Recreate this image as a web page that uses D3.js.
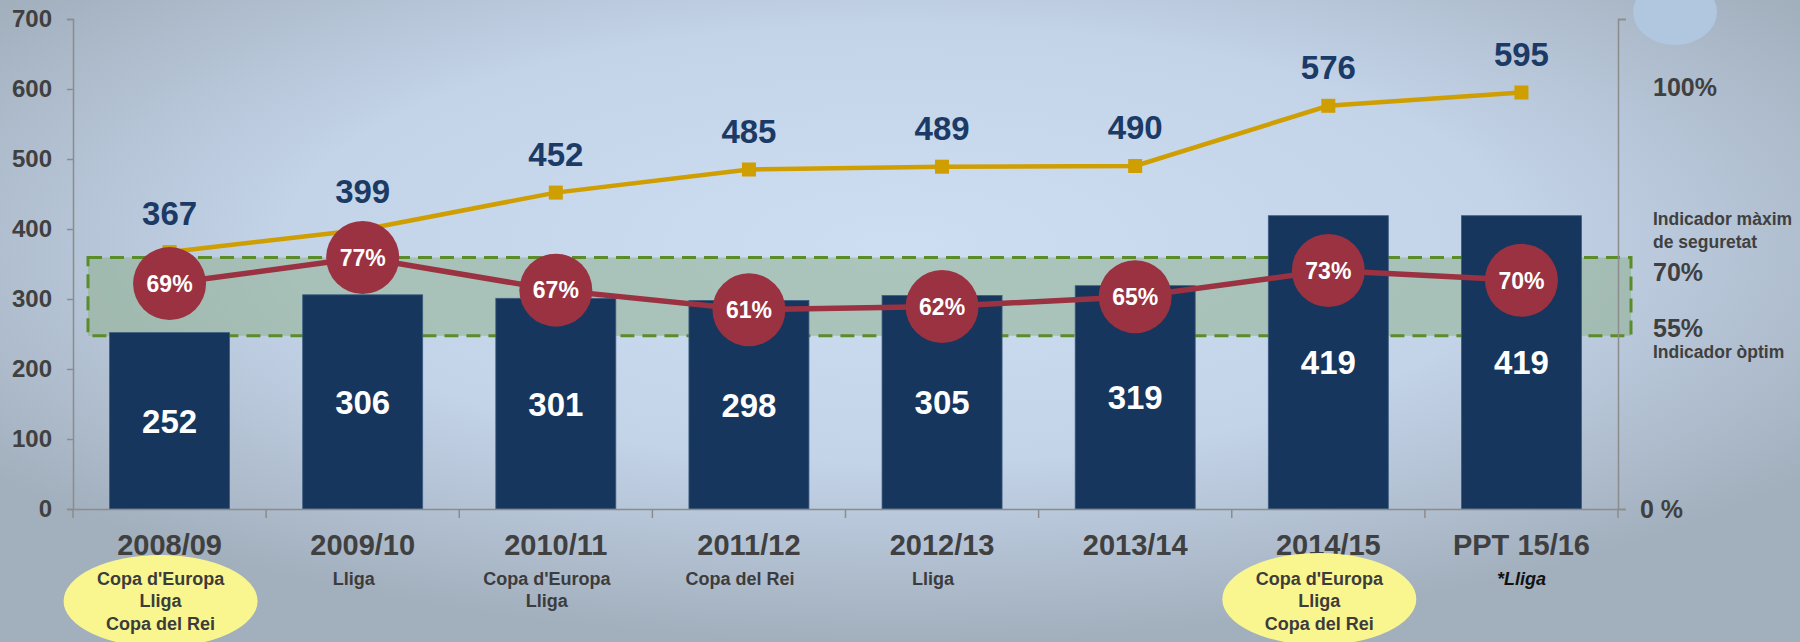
<!DOCTYPE html>
<meta charset="utf-8">
<style>
    body { margin: 0; }
    svg text { font-family: "Liberation Sans", Arial, sans-serif; font-weight: bold; }
    .axis path, .axis line { stroke: #8c8c8c; stroke-width: 1.5px; }
    .axis text { fill: #404040; }
</style>
<svg width="1800" height="642"></svg>
<script src="https://cdnjs.cloudflare.com/ajax/libs/d3/7.8.5/d3.min.js"></script>
<script>

    var seasons = ["2008/09", "2009/10", "2010/11", "2011/12", "2012/13", "2013/14", "2014/15", "PPT 15/16"];
    var totals = [367, 399, 452, 485, 489, 490, 576, 595];
    var barValues = [252, 306, 301, 298, 305, 319, 419, 419];
    var percents = [69, 77, 67, 61, 62, 65, 73, 70];
    var titles = [
        ["Copa d'Europa", "Lliga", "Copa del Rei"],
        ["Lliga"],
        ["Copa d'Europa", "Lliga"],
        ["Copa del Rei"],
        ["Lliga"],
        [],
        ["Copa d'Europa", "Lliga", "Copa del Rei"],
        ["*Lliga"]
    ];
    var highlighted = ["2008/09", "2014/15"];
    var yTicks = [0, 100, 200, 300, 400, 500, 600, 700];
    var safetyBand = [53, 77];

    var svg = d3.select("svg"),
            width = +svg.attr("width"),
            height = +svg.attr("height");

    var plotLeft = 73, plotRight = 1618, plotTop = 19, plotBottom = 509;

    // background
    var defs = svg.append("defs");
    var grad = defs.append("radialGradient")
            .attr("id", "bg")
            .attr("cx", "50%").attr("cy", "38%").attr("r", "62%");
    grad.append("stop").attr("offset", "0%").attr("stop-color", "#cddef2");
    grad.append("stop").attr("offset", "55%").attr("stop-color", "#c3d3e8");
    grad.append("stop").attr("offset", "100%").attr("stop-color", "#a2afbd");

    svg.append("rect")
            .attr("width", width)
            .attr("height", height)
            .attr("fill", "url(#bg)");

    svg.append("ellipse")
            .attr("cx", 1675).attr("cy", 12)
            .attr("rx", 42).attr("ry", 33)
            .attr("fill", "#b0c7df");

    var x = d3.scaleBand()
            .domain(seasons)
            .range([plotLeft, plotRight]);

    var y = d3.scaleLinear()
            .domain([0, 700])
            .range([plotBottom, plotTop]);

    var yPct = d3.scaleLinear()
            .domain([0, 150])
            .range([plotBottom, plotTop]);

    var barWidth = 120;
    function cx(d) { return x(d) + x.bandwidth() / 2; }

    // green "optimal" band
    svg.append("rect")
            .attr("x", x(seasons[0]) + 15)
            .attr("y", yPct(safetyBand[1]))
            .attr("width", plotRight + 13 - (x(seasons[0]) + 15))
            .attr("height", yPct(safetyBand[0]) - yPct(safetyBand[1]))
            .attr("fill", "#8fb08f")
            .attr("fill-opacity", 0.55)
            .attr("stroke", "#5b8c2a")
            .attr("stroke-width", 3)
            .attr("stroke-dasharray", "14,8");

    // bars
    svg.append("g")
            .selectAll("rect")
            .data(seasons)
            .enter().append("rect")
            .attr("x", function(d) { return cx(d) - barWidth / 2; })
            .attr("y", function(d, i) { return y(barValues[i]); })
            .attr("width", barWidth)
            .attr("height", function(d, i) { return plotBottom - y(barValues[i]); })
            .attr("fill", "#17365d")
            .attr("stroke", "#3d5c80")
            .attr("stroke-width", 0.8);

    svg.append("g")
            .selectAll("text")
            .data(seasons)
            .enter().append("text")
            .attr("x", cx)
            .attr("y", function(d, i) { return (y(barValues[i]) + plotBottom) / 2; })
            .attr("dy", "0.36em")
            .attr("text-anchor", "middle")
            .attr("fill", "#fff")
            .style("font-size", "33px")
            .text(function(d, i) { return barValues[i]; });

    // axes
    var leftAxis = svg.append("g")
            .attr("class", "axis")
            .attr("transform", "translate(" + plotLeft + ",0)")
            .call(d3.axisLeft(y).tickValues(yTicks).tickSize(6).tickPadding(15));
    leftAxis.selectAll("text").style("font-size", "24px");

    svg.append("g")
            .attr("class", "axis")
            .attr("transform", "translate(" + plotRight + ",0)")
            .call(d3.axisRight(yPct).tickValues([0, 150]).tickSize(8).tickFormat(""));

    var bottomAxis = svg.append("g")
            .attr("class", "axis")
            .attr("transform", "translate(0," + plotBottom + ")")
            .call(d3.axisBottom(x).tickSize(0).tickPadding(25));
    bottomAxis.selectAll("text").style("font-size", "29px");

    bottomAxis.selectAll(".sep")
            .data(seasons.concat(["end"]))
            .enter().append("line")
            .attr("class", "sep")
            .attr("x1", function(d) { return d === "end" ? plotRight : x(d); })
            .attr("x2", function(d) { return d === "end" ? plotRight : x(d); })
            .attr("y1", 0)
            .attr("y2", 9);

    // gold line (total)
    var goldLine = d3.line()
            .x(function(d) { return cx(d); })
            .y(function(d, i) { return y(totals[i]); });

    svg.append("path")
            .datum(seasons)
            .attr("d", goldLine)
            .attr("fill", "none")
            .attr("stroke", "#cf9e00")
            .attr("stroke-width", 4.5);

    svg.append("g")
            .selectAll("rect")
            .data(seasons)
            .enter().append("rect")
            .attr("x", function(d) { return cx(d) - 7; })
            .attr("y", function(d, i) { return y(totals[i]) - 7; })
            .attr("width", 14)
            .attr("height", 14)
            .attr("fill", "#cf9e00");

    svg.append("g")
            .selectAll("text")
            .data(seasons)
            .enter().append("text")
            .attr("x", cx)
            .attr("y", function(d, i) { return y(totals[i]) - 27; })
            .attr("text-anchor", "middle")
            .attr("fill", "#1b3a66")
            .style("font-size", "33px")
            .text(function(d, i) { return totals[i]; });

    // red line (percentage)
    var redLine = d3.line()
            .x(function(d) { return cx(d); })
            .y(function(d, i) { return yPct(percents[i]); });

    svg.append("path")
            .datum(seasons)
            .attr("d", redLine)
            .attr("fill", "none")
            .attr("stroke", "#9a3241")
            .attr("stroke-width", 5.5);

    var dots = svg.append("g")
            .selectAll("g")
            .data(seasons)
            .enter().append("g")
            .attr("transform", function(d, i) { return "translate(" + [cx(d), yPct(percents[i])] + ")"; });

    dots.append("circle")
            .attr("r", 36.5)
            .attr("fill", "#9a3241");

    dots.append("text")
            .attr("dy", "0.36em")
            .attr("text-anchor", "middle")
            .attr("fill", "#fff")
            .style("font-size", "23px")
            .text(function(d, i) { return percents[i] + "%"; });

    // titles under seasons (sit a little left of the column centre, except the last)
    var titleGroup = svg.append("g")
            .selectAll("g")
            .data(seasons)
            .enter().append("g")
            .attr("transform", function(d, i) {
                var shift = i === seasons.length - 1 ? 0 : -9;
                return "translate(" + (cx(d) + shift) + ",0)";
            });

    titleGroup.filter(function(d) { return highlighted.indexOf(d) >= 0; })
            .append("ellipse")
            .attr("cx", 0)
            .attr("cy", function(d) { return d === highlighted[0] ? 601 : 599; })
            .attr("rx", 97)
            .attr("ry", 46)
            .attr("fill", "#faf68f");

    titleGroup.each(function(d, i) {
        var g = d3.select(this);
        titles[i].forEach(function(t, j) {
            g.append("text")
                    .attr("y", 584.5 + j * 22.5)
                    .attr("text-anchor", "middle")
                    .attr("fill", t.charAt(0) === "*" ? "#111" : "#3c3c3c")
                    .style("font-size", "18px")
                    .style("font-style", t.charAt(0) === "*" ? "italic" : "normal")
                    .text(t);
        });
    });

    // right side annotations
    var notes = svg.append("g").attr("fill", "#404040");
    notes.append("text").attr("x", 1653).attr("y", y(600) + 7).style("font-size", "25px").text("100%");
    notes.append("text").attr("x", 1653).attr("y", 225).style("font-size", "17.5px").text("Indicador màxim");
    notes.append("text").attr("x", 1653).attr("y", 248).style("font-size", "17.5px").text("de seguretat");
    notes.append("text").attr("x", 1653).attr("y", 281).style("font-size", "25px").text("70%");
    notes.append("text").attr("x", 1653).attr("y", 337).style("font-size", "25px").text("55%");
    notes.append("text").attr("x", 1653).attr("y", 358).style("font-size", "17.5px").text("Indicador òptim");
    notes.append("text").attr("x", 1640).attr("y", plotBottom + 9).style("font-size", "25px").text("0 %");

</script>
